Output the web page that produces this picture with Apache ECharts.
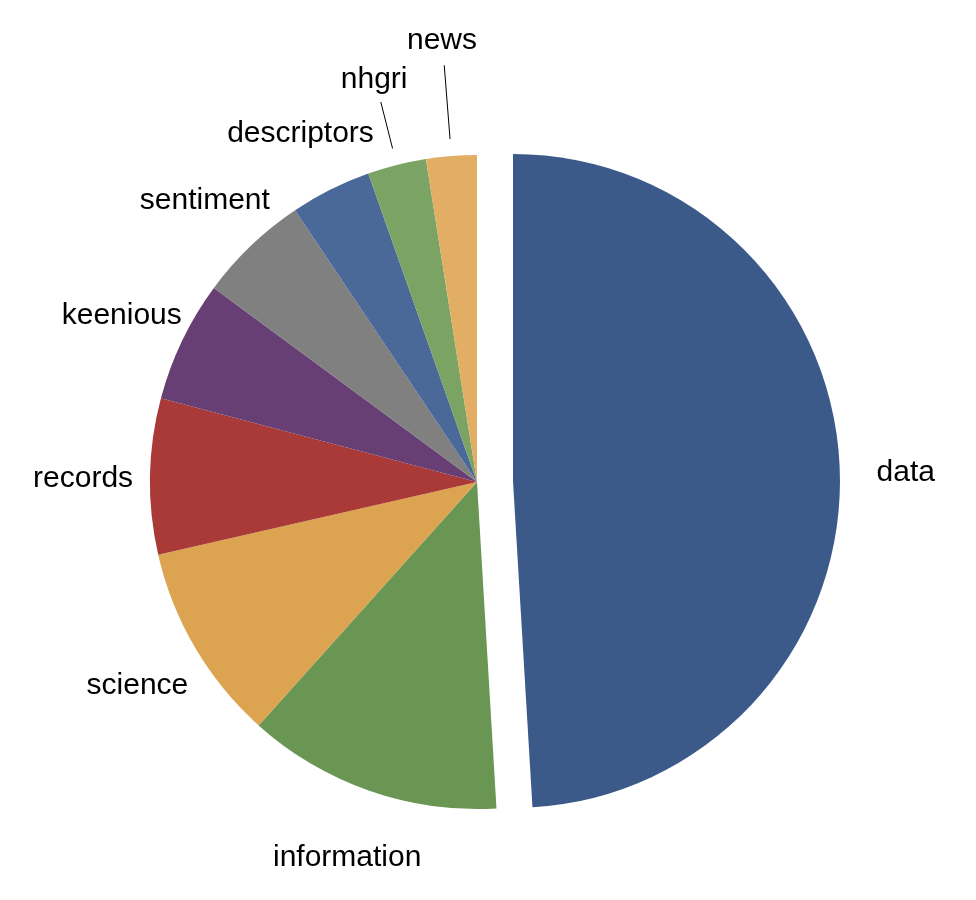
<!DOCTYPE html>
<html>
<head>
<meta charset="utf-8">
<script src="https://cdn.jsdelivr.net/npm/echarts@6/dist/echarts.min.js"></script>
<style>
html,body{margin:0;padding:0;background:#ffffff;}
#chart{width:976px;height:900px;}
</style>
</head>
<body>
<div id="chart"></div>
<script>
// ---- data ----
const categories = ['data', 'information', 'science', 'records', 'keenious', 'sentiment', 'descriptors', 'nhgri', 'news'];
const values = [49.1, 12.6, 9.8, 7.7, 6.0, 5.5, 4.0, 2.9, 2.5];
const colors = ['#3b5a89', '#6a9653', '#dca450', '#aa3a38', '#683f74', '#7f807f', '#4a6898', '#7ba464', '#e1ae63'];
const explodedCategory = 'data';
const leaderLineCategories = ['nhgri', 'news'];

// ---- style / layout settings ----
const labelLineLength = { data: 66, nhgri: 92, news: 120 };
const leaderStartGap = 17;
const leaderEndGap = { nhgri: 27, news: 29 };

const chart = echarts.init(document.getElementById('chart'), null, { renderer: 'canvas' });

const seriesData = categories.map(function (name, i) {
  const item = {
    name: name,
    value: values[i],
    itemStyle: { color: colors[i] }
  };
  if (name === explodedCategory) item.selected = true;
  const showLine = leaderLineCategories.indexOf(name) >= 0;
  item.labelLine = { show: showLine, length: labelLineLength[name] != null ? labelLineLength[name] : 67, length2: 0 };
  return item;
});

chart.setOption({
  animation: false,
  backgroundColor: '#ffffff',
  series: [{
    type: 'pie',
    center: [477, 482],
    radius: 327,
    startAngle: 90,
    clockwise: true,
    selectedMode: 'single',
    selectedOffset: 36,
    avoidLabelOverlap: false,
    itemStyle: { borderWidth: 0 },
    select: { itemStyle: { borderWidth: 0 } },
    emphasis: { scale: false },
    label: {
      show: true,
      position: 'outside',
      color: '#000000',
      fontSize: 30,
      fontFamily: 'Liberation Sans, Arial, sans-serif',
      distanceToLabelLine: 0,
      formatter: '{t|{b}}',
      rich: {
        t: {
          color: '#000000',
          fontSize: 30,
          fontFamily: 'Liberation Sans, Arial, sans-serif',
          padding: [8, 0, 0, 0]
        }
      }
    },
    labelLine: {
      show: false,
      length: 67,
      length2: 0,
      smooth: false,
      lineStyle: { color: '#000000', width: 1 }
    },
    labelLayout: function (p) {
      const out = { align: 'center', verticalAlign: 'middle' };
      const name = categories[p.dataIndex];
      const pts = p.labelLinePoints;
      if (pts && pts.length >= 2 && leaderLineCategories.indexOf(name) >= 0) {
        const a = pts[0], b = pts[1];
        const dx = b[0] - a[0], dy = b[1] - a[1];
        const len = Math.sqrt(dx * dx + dy * dy) || 1;
        const ux = dx / len, uy = dy / len;
        const g = leaderEndGap[name] || 0;
        const s = [a[0] + ux * leaderStartGap, a[1] + uy * leaderStartGap];
        const e = [b[0] - ux * g, b[1] - uy * g];
        out.labelLinePoints = [s, e, e.slice()];
      }
      return out;
    },
    data: seriesData
  }]
});
</script>
</body>
</html>
